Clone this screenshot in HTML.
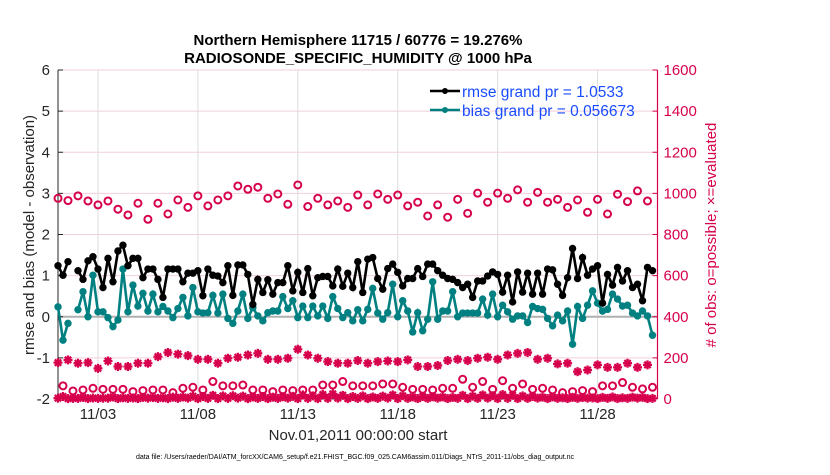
<!DOCTYPE html>
<html><head><meta charset="utf-8"><style>
body{margin:0;background:#fff;width:830px;height:470px;overflow:hidden}
svg{font-family:"Liberation Sans",sans-serif}
</style></head><body>
<svg id="c" width="830" height="470"></svg>
<script>
const dayTicks=[2,7,12,17,22,27];
const tickLabels=["11/03","11/08","11/13","11/18","11/23","11/28"];
const leftTicks=[-2,-1,0,1,2,3,4,5,6];
const rightTicks=[0,200,400,600,800,1000,1200,1400,1600];
const rmse=[1.24,1.01,1.34,null,1.12,0.91,1.36,1.46,1.16,0.71,1.42,0.85,1.60,1.74,1.24,1.42,1.42,0.95,1.16,1.16,0.91,0.47,1.16,1.16,1.16,0.85,1.06,1.06,1.12,0.51,1.16,1.01,0.99,0.83,1.24,0.52,1.26,1.26,1.03,0.30,0.91,0.59,0.90,0.55,0.83,0.83,1.24,0.63,1.08,0.59,1.17,0.51,0.95,0.98,0.98,0.75,1.16,0.74,1.06,0.71,
1.34,0.59,1.40,1.44,0.93,0.67,1.17,1.28,1.08,0.75,0.93,0.93,1.17,0.98,1.28,1.28,1.12,1.01,0.93,0.91,0.83,0.71,0.79,0.47,0.87,0.87,0.99,1.09,1.03,0.60,1.01,0.36,1.09,0.60,1.06,0.55,1.06,0.55,1.16,1.14,0.79,0.52,0.95,1.66,0.93,1.44,1.01,1.16,1.24,0.33,1.03,0.77,1.20,0.87,1.12,0.71,0.79,0.39,1.20,1.12];
const bias=[0.24,-0.57,-0.16,null,0.17,0.61,0.00,1.01,0.12,0.12,-0.02,-0.24,-0.08,1.16,0.12,0.77,0.26,0.57,0.14,0.55,0.12,0.25,0.14,-0.02,0.20,0.47,0.02,0.71,0.12,0.09,0.10,0.52,0.09,0.55,-0.04,-0.16,0.14,0.55,-0.04,0.22,0.02,-0.10,0.10,0.14,0.14,0.49,0.20,0.39,-0.02,0.26,-0.02,0.26,0.02,0.26,-0.04,0.49,0.20,-0.02,0.10,-0.10,
0.17,-0.10,0.18,0.69,0.09,-0.06,0.10,0.79,0.00,0.39,0.14,-0.37,0.10,-0.34,-0.06,0.85,-0.06,0.14,0.14,0.61,0.00,0.09,0.09,0.09,0.09,0.43,0.04,0.55,0.00,0.28,0.12,-0.06,0.02,0.02,-0.14,0.25,0.20,0.18,-0.04,-0.22,0.04,-0.10,0.14,-0.67,0.25,-0.04,0.28,0.63,0.33,0.14,0.18,0.55,0.43,0.26,0.28,0.09,0.02,0.14,0.02,-0.45];
const possibleMain=[976,965,988,963,944,963,923,895,952,874,952,900,968,932,988,939,968,988,1036,1020,1030,976,997,947,1041,936,976,944,963,932,992,944,997,971,992,939,957,890,944,884,971,903,1001,957,1001,976,1017,957,1005,957,971,932,968,908,971,900,996,960,1012,963];
const usedMain=[177,190,174,177,149,185,158,158,174,174,206,226,218,211,193,193,174,198,203,214,222,193,193,198,242,214,198,182,174,174,187,174,182,185,182,190,158,158,163,187,193,187,198,203,193,214,222,226,193,198,171,174,133,141,166,154,154,174,154,166];
const possibleOff=[64,39,44,52,47,47,47,36,41,44,44,31,52,57,44,85,64,64,68,44,44,36,44,41,44,44,68,68,85,64,64,64,73,73,57,47,47,44,52,52,96,57,85,47,89,52,73,47,52,44,31,36,41,36,64,64,80,57,49,57];
const usedOff=[12,3,8,5,4,10,6,5,8,7,6,9,10,14,12,18,15,16,14,10,12,9,11,13,20,15,22,25,18,12,15,10,14,20,16,10,12,11,10,8,18,14,20,16,22,18,15,12,9,10,6,8,7,5,8,10,6,9,8,3];
const usedZero=[4,2,3,2,3,4,2,3,2,4,3,2,3,4,2,3,2,3,4,2,3,2,3,4,2,3,2,3,4,2,3,2,3,4,2,3,2,3,4,2,3,2,3,4,2,3,2,3,4,2,3,2,3,4,2,3,2,3,4,2];
const NS="http://www.w3.org/2000/svg";
const svg=document.getElementById('c');
const X0=58,X1=657.5,Y0=70,Y1=399;
const xs=d=>X0+(X1-X0)*d/30;
const yl=v=>Y1-(v+2)/8*(Y1-Y0);
const yr=v=>Y1-v/1600*(Y1-Y0);
function mk(t,a,p){const e=document.createElementNS(NS,t);for(const k in a)e.setAttribute(k,a[k]);(p||svg).appendChild(e);return e;}
rightTicks.forEach(v=>{const l=mk('line',{x1:X0,x2:X1,y1:yr(v),y2:yr(v),stroke:'#f3cfdc','stroke-width':1});

});
dayTicks.forEach(d=>{const l=mk('line',{x1:xs(d),x2:xs(d),y1:Y0,y2:Y1,stroke:'#dcdcdc','stroke-width':1});

});
const zl=mk('line',{x1:X0,x2:X1,y1:yl(0),y2:yl(0),stroke:'#b0b0b0','stroke-width':2});


const ax=mk('path',{d:`M${X0} ${Y0}V${Y1}H${X1}`,stroke:'#262626',fill:'none','stroke-width':1});


const ra=mk('line',{x1:X1,x2:X1,y1:Y0,y2:Y1,stroke:'#d6004c','stroke-width':1.2});


leftTicks.forEach(v=>{mk('line',{x1:X0,x2:X0+5,y1:yl(v),y2:yl(v),stroke:'#262626'});
const t=mk('text',{x:X0-8,y:yl(v)+5,'text-anchor':'end','font-size':15,fill:'#262626'});t.textContent=v;

});
rightTicks.forEach(v=>{mk('line',{x1:X1-5,x2:X1,y1:yr(v),y2:yr(v),stroke:'#d6004c'});
const t=mk('text',{x:X1+6,y:yr(v)+5,'font-size':15,fill:'#d6004c'});t.textContent=v;

});
dayTicks.forEach((d,i)=>{mk('line',{x1:xs(d),x2:xs(d),y1:Y1,y2:Y1-5,stroke:'#262626'});
const t=mk('text',{x:xs(d),y:Y1+20,'text-anchor':'middle','font-size':15,fill:'#262626'});t.textContent=tickLabels[i];

});
function star(x,y,c,n){const g=mk('g',{stroke:c,'stroke-width':2.3});
for(let a=0;a<4;a++){const an=a*Math.PI/4;mk('line',{x1:x-4.5*Math.cos(an),y1:y-4.5*Math.sin(an),x2:x+4.5*Math.cos(an),y2:y+4.5*Math.sin(an)},g);}

}
possibleMain.forEach((v,i)=>{const c=mk('circle',{cx:xs(i*0.5),cy:yr(v),r:3.5,fill:'none',stroke:'#d6004c','stroke-width':2});

});
usedMain.forEach((v,i)=>star(xs(i*0.5),yr(v),'#d6004c','evaluated-obs-point'));
possibleOff.forEach((v,i)=>{const c=mk('circle',{cx:xs(0.25+i*0.5),cy:yr(v),r:3.5,fill:'none',stroke:'#d6004c','stroke-width':2});

});
usedOff.forEach((v,i)=>star(xs(0.25+i*0.5),yr(v),'#d6004c','evaluated-obs-offhour-point'));
usedZero.forEach((v,i)=>star(xs(i*0.5),yr(v),'#d6004c','evaluated-obs-zero-point'));
function line(arr,c,n){let d='',pen=false;arr.forEach((v,i)=>{if(v===null){pen=false;return;}d+=(pen?'L':'M')+xs(i/4).toFixed(1)+' '+yl(v).toFixed(1);pen=true;});
const p=mk('path',{d:d,stroke:c,fill:'none','stroke-width':2.6});


arr.forEach((v,i)=>{if(v===null)return;const m=mk('circle',{cx:xs(i/4),cy:yl(v),r:3.7,fill:c});

});}
line(bias,'#008080','bias');
line(rmse,'#000000','rmse');
</script>
<svg width="830" height="470" style="position:absolute;left:0;top:0">
<text x="358" y="45" text-anchor="middle" font-size="15" font-weight="bold" font-family="Liberation Sans,sans-serif">Northern Hemisphere 11715 / 60776 = 19.276%</text>
<text x="358" y="63" text-anchor="middle" font-size="15" font-weight="bold" font-family="Liberation Sans,sans-serif">RADIOSONDE_SPECIFIC_HUMIDITY @ 1000 hPa</text>
<g font-family="Liberation Sans,sans-serif" font-size="15.5" fill="#1a4cff">
<line x1="430" x2="460" y1="91" y2="91" stroke="#000" stroke-width="2.5"/><circle cx="445" cy="91" r="3" fill="#000"/>
<text x="462" y="97">rmse grand pr = 1.0533</text>
<line x1="430" x2="460" y1="110" y2="110" stroke="#008080" stroke-width="2.5"/><circle cx="445" cy="110" r="3" fill="#008080"/>
<text x="462" y="116">bias grand pr = 0.056673</text>
</g>
<text transform="translate(34 235) rotate(-90)" text-anchor="middle" font-size="15" fill="#262626" font-family="Liberation Sans,sans-serif">rmse and bias (model - observation)</text>
<text transform="translate(716 235) rotate(-90)" text-anchor="middle" font-size="15" fill="#d6004c" font-family="Liberation Sans,sans-serif"># of obs: o=possible; ×=evaluated</text>
<text x="358" y="440" text-anchor="middle" font-size="15" fill="#262626" font-family="Liberation Sans,sans-serif">Nov.01,2011 00:00:00 start</text>
<text x="355" y="459" text-anchor="middle" font-size="7" fill="#000" font-family="Liberation Sans,sans-serif">data file: /Users/raeder/DAI/ATM_forcXX/CAM6_setup/f.e21.FHIST_BGC.f09_025.CAM6assim.011/Diags_NTrS_2011-11/obs_diag_output.nc</text>
</svg>
</body></html>
